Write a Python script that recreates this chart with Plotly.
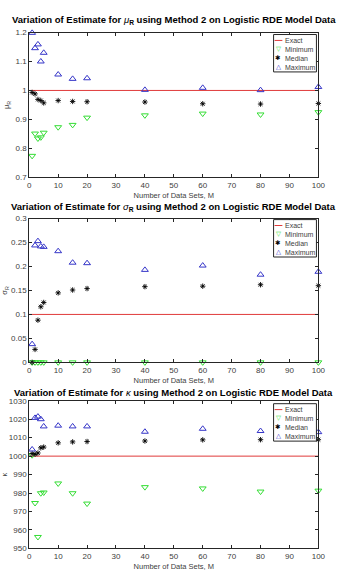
import plotly.graph_objects as go

# ---------------- data ----------------
M = [1, 2, 3, 4, 5, 10, 15, 20, 40, 60, 80, 100]
exact_M = [0, 100]

mu_min = [0.774, 0.851, 0.834, 0.838, 0.854, 0.873, 0.881, 0.906, 0.914, 0.920, 0.917, 0.925]
mu_med = [0.993, 0.988, 0.969, 0.965, 0.957, 0.965, 0.962, 0.961, 0.960, 0.954, 0.953, 0.955]
mu_max = [1.199, 1.146, 1.159, 1.100, 1.130, 1.055, 1.040, 1.042, 1.002, 1.009, 1.001, 1.012]
mu_exact = [1.0, 1.0]

sig_min = [0.0, 0.0, 0.0, 0.0, 0.0, 0.0, 0.0, 0.0, 0.0, 0.0, 0.0, 0.0]
sig_med = [0.0, 0.027, 0.088, 0.116, 0.125, 0.145, 0.151, 0.154, 0.158, 0.159, 0.162, 0.160]
sig_max = [0.038, 0.244, 0.253, 0.242, 0.241, 0.232, 0.208, 0.207, 0.193, 0.202, 0.183, 0.189]
sig_exact = [0.1, 0.1]

kap_min = [1000.5, 974.6, 956.2, 979.9, 980.3, 985.2, 979.9, 974.3, 983.2, 982.5, 980.8, 981.3]
kap_med = [1001.4, 1001.0, 1001.7, 1004.5, 1004.9, 1007.2, 1007.7, 1007.9, 1008.2, 1008.8, 1008.9, 1008.9]
kap_max = [1003.6, 1020.7, 1021.4, 1020.0, 1016.1, 1016.5, 1016.1, 1016.1, 1013.2, 1014.8, 1013.6, 1013.0]
kap_exact = [1000.0, 1000.0]

titles = [
    "<b>Variation of Estimate for </b><i>μ</i><sub><b>R</b></sub><b> using Method 2 on Logistic RDE Model Data</b>",
    "<b>Variation of Estimate for </b><i>σ</i><sub><b>R</b></sub><b> using Method 2 on Logistic RDE Model Data</b>",
    "<b>Variation of Estimate for </b><i>κ</i><b> using Method 2 on Logistic RDE Model Data</b>",
]
ylabels = ["μ<sub>R</sub>", "σ<sub>R</sub>", "κ"]
xlabel = "Number of Data Sets, M"
legend_labels = ["Exact", "Minimum", "Median", "Maximum"]

yranges = [[0.7, 1.2], [0.0, 0.3], [950, 1030]]
ydticks = [0.1, 0.05, 10]

# ---------------- layout geometry (pixels) ----------------
W, H = 339, 580
FONT = "Liberation Sans, Arial, sans-serif"
AX = "#262626"
TXT = "#404040"
RED = "#e03a3a"
GREEN = "#33dd33"
BLUE = "#3535c8"

x_left, x_right = 28, 325
panels = [(29, 176), (218, 364), (403, 553)]
title_y = [16.5, 206, 395]
legend_top = [31, 219, 406]


def px(x):
    return x / W


def py(y):
    return 1 - y / H


fig = go.Figure()

series = [
    (mu_exact, mu_min, mu_med, mu_max),
    (sig_exact, sig_min, sig_med, sig_max),
    (kap_exact, kap_min, kap_med, kap_max),
]

annotations = []
shapes = []

for i, (ex, mn, md, mx) in enumerate(series):
    xa = "x" if i == 0 else f"x{i+1}"
    ya = "y" if i == 0 else f"y{i+1}"
    fig.add_trace(go.Scatter(x=exact_M, y=ex, mode="lines", name=legend_labels[0],
                             line=dict(color=RED, width=1), xaxis=xa, yaxis=ya,
                             showlegend=False, cliponaxis=False))
    fig.add_trace(go.Scatter(x=M, y=mn, mode="markers", name=legend_labels[1],
                             marker=dict(symbol="triangle-down-open", size=6,
                                         line=dict(color=GREEN, width=1), color=GREEN),
                             xaxis=xa, yaxis=ya, showlegend=False, cliponaxis=False))
    fig.add_trace(go.Scatter(x=M, y=md, mode="markers", name=legend_labels[2],
                             marker=dict(symbol="asterisk-open", size=4.5,
                                         line=dict(color="black", width=0.9), color="black"),
                             xaxis=xa, yaxis=ya, showlegend=False, cliponaxis=False))
    fig.add_trace(go.Scatter(x=M, y=mx, mode="markers", name=legend_labels[3],
                             marker=dict(symbol="triangle-up-open", size=6,
                                         line=dict(color=BLUE, width=1), color=BLUE),
                             xaxis=xa, yaxis=ya, showlegend=False, cliponaxis=False))

    top, bot = panels[i]
    axis_common = dict(showline=True, linecolor=AX, linewidth=1, mirror="ticks",
                       ticks="inside", ticklen=3, tickcolor=AX, tickwidth=1,
                       showgrid=False, zeroline=False,
                       tickfont=dict(family=FONT, size=8, color=TXT))
    fig.update_layout(**{
        ("xaxis" if i == 0 else f"xaxis{i+1}"): dict(
            domain=[px(x_left), px(x_right)], anchor=ya, range=[0, 100],
            tick0=0, dtick=10,
            title=dict(text=xlabel, font=dict(family=FONT, size=7.5, color=TXT), standoff=3),
            **axis_common),
        ("yaxis" if i == 0 else f"yaxis{i+1}"): dict(
            domain=[py(bot), py(top)], anchor=xa, range=yranges[i],
            tick0=yranges[i][0], dtick=ydticks[i],
            title=dict(text=ylabels[i], font=dict(family=FONT, size=7.5, color=TXT), standoff=4),
            **axis_common),
    })

    # title
    annotations.append(dict(text=titles[i], x=px((x_left + x_right) / 2), y=py(title_y[i]),
                            xref="paper", yref="paper", xanchor="center", yanchor="middle",
                            showarrow=False, font=dict(family=FONT, size=9.5, color="black")))

    # legend box
    lt = legend_top[i]
    lx0, lx1 = 279, 323
    shapes.append(dict(type="rect", xref="paper", yref="paper",
                       x0=px(lx0), x1=px(lx1), y0=py(lt + 38), y1=py(lt),
                       line=dict(color=AX, width=1), fillcolor="white", layer="above"))
    rows = [lt + 6, lt + 15, lt + 24, lt + 33]
    shapes.append(dict(type="line", xref="paper", yref="paper",
                       x0=px(280), x1=px(288), y0=py(rows[0]), y1=py(rows[0]),
                       line=dict(color=RED, width=1), layer="above"))
    syms = [("▽", GREEN), ("✱", "black"), ("△", BLUE)]
    for (s, c), ry in zip(syms, rows[1:]):
        annotations.append(dict(text=s, x=px(284), y=py(ry), xref="paper", yref="paper",
                                xanchor="center", yanchor="middle", showarrow=False,
                                font=dict(family="DejaVu Sans", size=6.5, color=c)))
    for lab, ry in zip(legend_labels, rows):
        annotations.append(dict(text=lab, x=px(289), y=py(ry), xref="paper", yref="paper",
                                xanchor="left", yanchor="middle", showarrow=False,
                                font=dict(family=FONT, size=7, color=TXT)))

fig.update_layout(width=W, height=H, margin=dict(l=0, r=0, t=0, b=0),
                  paper_bgcolor="white", plot_bgcolor="white",
                  annotations=annotations, shapes=shapes, showlegend=False)

fig.write_html("out.html", config={"displayModeBar": False})
